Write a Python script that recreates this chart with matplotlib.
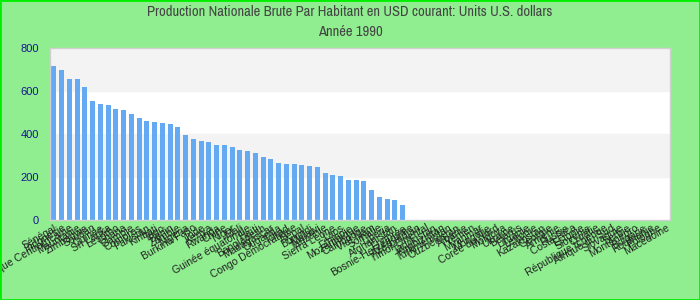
import numpy as np
import matplotlib
matplotlib.use("Agg")
import matplotlib.pyplot as plt
from matplotlib.patches import Rectangle
from matplotlib import font_manager

# Pays (ordre du graphique) et valeurs 1990, USD courant
pays = [
    "Sénégal", "Indonésie", "République Centrafricaine", "Mauritanie", "Zimbabwe",
    "Soudan", "Guinée", "Sri Lanka", "Lesotho", "Ghana",
    "Gambie", "Comores", "Pakistan", "Kiribati", "Togo",
    "Bénin", "Zambie", "Nigeria", "Burkina Faso", "Inde",
    "Kenya", "Rwanda", "Chine", "Niger", "Mali",
    "Guinée équatoriale", "Haïti", "Bangladesh", "Madagascar", "Ouganda",
    "Tchad", "Congo Démocratique", "Népal", "Burundi", "Malawi",
    "Tanzanie", "Sierra Leone", "Laos", "Éthiopie", "Mozambique",
    "Cambodge", "Viet Nam", "Somalie", "Libéria", "Afghanistan",
    "Érythrée", "Bosnie-Herzégovine", "Azerbaïdjan", "Timor Oriental", "Tadjikistan",
    "Kirghizistan", "Turkménistan", "Ouzbékistan", "Albanie", "Yémen",
    "Myanmar", "Mongolie", "Corée du Nord", "Moldova", "Ukraine",
    "Bélarus", "Lituanie", "Lettonie", "Kazakhstan", "Géorgie",
    "Arménie", "Russie", "Costa Rica", "Estonie", "Slovénie",
    "Croatie", "République tchèque", "Afrique du Sud", "Slovaquie", "Serbie",
    "Monténégro", "Bulgarie", "Roumanie", "Pologne", "Macédoine",
]

pnb = [
    716, 698, 656, 656, 619, 553, 540, 535, 516, 512,
    493, 474, 460, 456, 451, 447, 433, 395, 377, 367,
    363, 349, 349, 340, 326, 321, 312, 293, 284, 265,
    260, 260, 256, 251, 247, 219, 209, 205, 186, 186,
    181, 140, 107, 98, 93, 70,
]
# pas de données pour les autres pays
valeurs = pnb + [np.nan] * (len(pays) - len(pnb))

# police étroite pour le titre si disponible
noms = {f.name for f in font_manager.fontManager.ttflist}
etroite = [n for n in noms if "Narrow" in n or "Condensed" in n]
if "Liberation Sans Narrow" in noms:
    titre_font, titre_taille = "Liberation Sans Narrow", 10.5
elif etroite:
    titre_font, titre_taille = sorted(etroite)[0], 10.5
else:
    titre_font, titre_taille = "Liberation Sans", 8.5

fig = plt.figure(figsize=(7, 3), dpi=100, facecolor="#90ee90")
ax = fig.add_axes([50 / 700, 1 - 220 / 300, 620 / 700, 172 / 300])

x = np.arange(len(pays))
ax.axhspan(200, 400, color="#f3f3f3", zorder=0)
ax.axhspan(600, 800, color="#f3f3f3", zorder=0)
ax.bar(x, valeurs, width=0.64, color="#63aaf2", zorder=2)

ax.set_xlim(-0.5, len(pays) - 0.5)
ax.set_ylim(0, 800)
ax.set_yticks([0, 200, 400, 600, 800])
ax.tick_params(axis="y", length=0, pad=8, labelsize=8, labelcolor="#16168c")
ax.tick_params(axis="x", length=0, pad=2)
for t in ax.get_yticklabels():
    t.set_family("Liberation Sans")
ax.set_xticks(x)
ax.set_xticklabels(pays, rotation=30, ha="right", va="top", rotation_mode="anchor",
                   fontsize=7.5, color="#222222", family="Liberation Sans")
for s in ax.spines.values():
    s.set_color("#d0d0d0")
    s.set_linewidth(1)

fig.text(0.5, 1 - 12 / 300, "Production Nationale Brute Par Habitant en USD courant: Units U.S. dollars",
         ha="center", va="center", fontsize=titre_taille, color="#444444", family=titre_font)
fig.text(0.5, 1 - 32 / 300, "Année 1990",
         ha="center", va="center", fontsize=titre_taille, color="#444444", family=titre_font)

fig.patches.append(Rectangle((0, 0), 1, 1, transform=fig.transFigure, fill=False,
                             edgecolor="#00ee00", linewidth=2))

fig.savefig("out.png", dpi=100, facecolor=fig.get_facecolor())
